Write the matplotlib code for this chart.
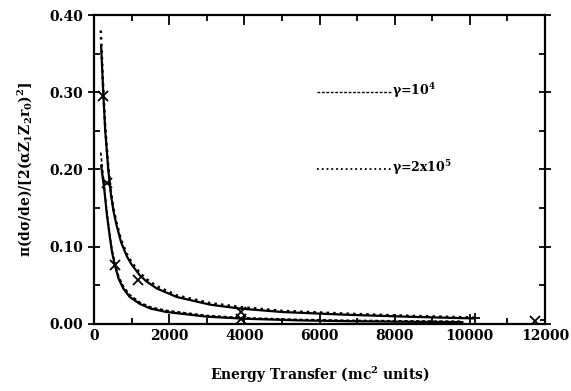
#!/usr/bin/env python3
"""
Energy transfer cross section curves, two gamma values
"""

import matplotlib
matplotlib.use("Agg")
import matplotlib.pyplot as plt
from matplotlib.ticker import MultipleLocator

plt.rcParams['font.family'] = ['DejaVu Serif']
plt.rcParams['font.weight'] = 'bold'
plt.rcParams['mathtext.fontset'] = 'dejavuserif'
plt.rcParams['mathtext.default'] = 'bf'

# upper curve (solid) and its dotted companion
upper_x = [190, 250, 300, 380, 450, 520, 600, 720, 870, 1000, 1220, 1400, 1670, 2200, 3090, 3880, 5000, 6800, 8500, 10100]
upper_y = [0.360, 0.296, 0.250, 0.200, 0.168, 0.146, 0.128, 0.106, 0.088, 0.077, 0.063, 0.055, 0.046, 0.035, 0.025, 0.020, 0.0155, 0.0118, 0.0092, 0.0072]
upper_dot_x = [180, 250, 300, 380, 450, 520, 600, 720, 870, 1000, 1220, 1400, 1670, 2200, 3090, 3880, 5000, 6800, 8500, 10100]
upper_dot_y = [0.380, 0.300, 0.254, 0.204, 0.171, 0.149, 0.131, 0.109, 0.091, 0.080, 0.066, 0.058, 0.049, 0.037, 0.027, 0.022, 0.017, 0.0132, 0.0104, 0.0084]

# lower curve (solid) and its dashed companion
lower_x = [190, 270, 340, 420, 480, 560, 660, 780, 950, 1220, 1500, 1930, 3000, 4000, 5500, 6800, 8500, 9800]
lower_y = [0.205, 0.176, 0.143, 0.113, 0.093, 0.075, 0.058, 0.046, 0.035, 0.026, 0.020, 0.0155, 0.0095, 0.0068, 0.0046, 0.0036, 0.0028, 0.0024]
lower_dash_x = [180, 270, 340, 420, 480, 560, 660, 780, 950, 1220, 1500, 1930, 3000, 4000, 5500, 6800, 8500, 9800]
lower_dash_y = [0.222, 0.180, 0.146, 0.116, 0.096, 0.078, 0.061, 0.049, 0.038, 0.028, 0.022, 0.0175, 0.011, 0.0080, 0.0058, 0.0047, 0.0039, 0.0035]

# measured points
cross_x = [250, 340, 560, 1180, 3900, 3900, 11730]
cross_y = [0.295, 0.182, 0.076, 0.057, 0.016, 0.007, 0.004]
plus_x = [10150, 12000]
plus_y = [0.0075, 0.005]

fig = plt.figure(figsize=(5.71, 3.91), dpi=100)
ax = fig.add_axes([0.1646, 0.1714, 0.7899, 0.7902])

ax.plot(upper_x, upper_y, '-', color='black', lw=1.6)
ax.plot(upper_dot_x, upper_dot_y, ':', color='black', lw=1.8)
ax.plot(lower_x, lower_y, '-', color='black', lw=1.6)
ax.plot(lower_dash_x, lower_dash_y, '--', color='black', lw=1.2, dashes=(2, 1.5))
ax.plot(cross_x, cross_y, 'x', color='black', ms=7, mew=1.3)
ax.plot(plus_x, plus_y, '+', color='black', ms=7, mew=1.3)

# legend drawn by hand as in the original
ax.plot([5930, 7900], [0.30, 0.30], '--', color='black', lw=1.0, dashes=(2, 1.2))
ax.text(7920, 0.302, r'$\gamma$=10$^4$', va='center', ha='left', fontsize=9, fontweight='bold')
ax.plot([5930, 7900], [0.20, 0.20], ':', color='black', lw=1.3)
ax.text(7920, 0.202, r'$\gamma$=2x10$^5$', va='center', ha='left', fontsize=9, fontweight='bold')

ax.set_xlim(0, 12000)
ax.set_ylim(0, 0.40)
ax.xaxis.set_major_locator(MultipleLocator(2000))
ax.xaxis.set_minor_locator(MultipleLocator(1000))
ax.yaxis.set_major_locator(MultipleLocator(0.10))
ax.yaxis.set_minor_locator(MultipleLocator(0.05))
ax.yaxis.set_major_formatter(plt.FormatStrFormatter('%.2f'))

ax.tick_params(which='both', direction='in', top=True, right=True, width=1.3,
               labelsize=10)
ax.tick_params(which='major', length=7)
ax.tick_params(which='minor', length=4)
ax.tick_params(axis='y', which='major', direction='inout', length=9)
for s in ax.spines.values():
    s.set_linewidth(1.6)
for lab in ax.get_xticklabels() + ax.get_yticklabels():
    lab.set_fontweight('bold')

ax.set_xlabel(r'Energy Transfer (mc$^2$ units)', fontsize=10, fontweight='bold', labelpad=16)
ax.set_ylabel(r'$\pi$(d$\sigma$/de)/[2($\alpha$Z$_1$Z$_2$r$_0$)$^2$]', fontsize=10,
              fontweight='bold', labelpad=10)

fig.savefig('out.png', dpi=100)
